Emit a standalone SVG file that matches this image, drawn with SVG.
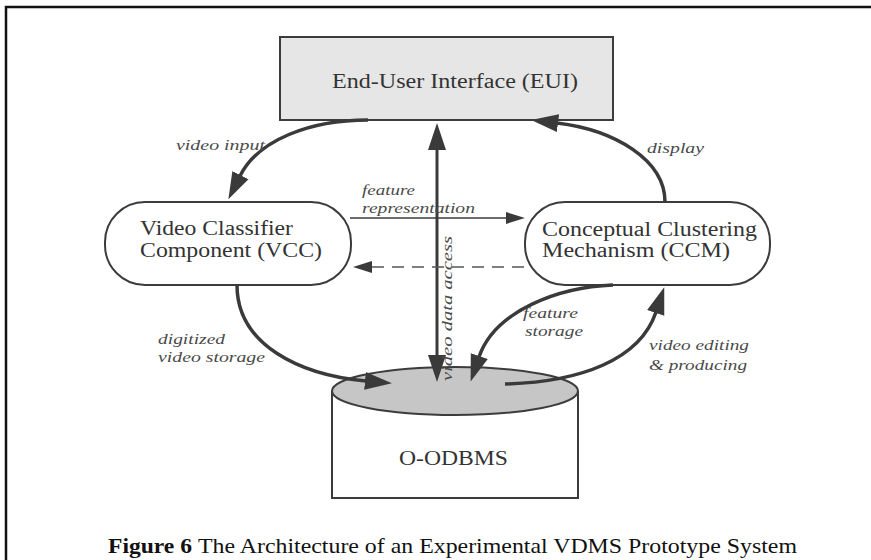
<svg xmlns="http://www.w3.org/2000/svg" width="871" height="560" viewBox="0 0 871 560">
  <style>
    .frame { stroke: #111; stroke-width: 2.5; fill: none; }
    .box { stroke: #3c3c3c; stroke-width: 2; }
    .node-text { font-family: "Liberation Serif", "Times New Roman", serif; font-size: 20px; fill: #333; }
    .label { font-family: "Liberation Serif", "Times New Roman", serif; font-size: 15.5px; font-style: italic; fill: #4a4a4a; }
    .caption { font-family: "Liberation Serif", "Times New Roman", serif; font-size: 22px; fill: #111; }
    .thick { fill: none; stroke: #3a3a3a; stroke-width: 3.5; }
    .thin { fill: none; stroke: #3a3a3a; stroke-width: 1.6; }
    .dashed { fill: none; stroke: #555; stroke-width: 1.6; stroke-dasharray: 12 8; }
  </style>
  <defs>
    <marker id="head-big" markerUnits="userSpaceOnUse" markerWidth="30" markerHeight="22" viewBox="0 -11 30 22" refX="1" refY="0" orient="auto-start-reverse">
      <path d="M0,-9 L27,0 L0,9 Z" fill="#3a3a3a"/>
    </marker>
    <marker id="head-small" markerUnits="userSpaceOnUse" markerWidth="22" markerHeight="16" viewBox="0 -8 22 16" refX="1" refY="0" orient="auto">
      <path d="M0,-6 L19,0 L0,6 Z" fill="#3a3a3a"/>
    </marker>
  </defs>

  <rect width="871" height="560" fill="#fff"/>

  <!-- page frame -->
  <path class="frame" d="M6,560 L6,7 L871,7"/>

  <!-- nodes -->
  <g id="eui">
    <rect class="box" x="280" y="37" width="333" height="83" fill="#e6e6e6"/>
    <text class="node-text" x="332" y="88" textLength="246" lengthAdjust="spacingAndGlyphs">End-User Interface (EUI)</text>
  </g>

  <g id="vcc">
    <rect class="box" x="105" y="202" width="246" height="83" rx="40" ry="40" fill="#fff"/>
    <text class="node-text" x="140" y="235" textLength="153" lengthAdjust="spacingAndGlyphs">Video Classifier</text>
    <text class="node-text" x="140" y="257" textLength="182" lengthAdjust="spacingAndGlyphs">Component (VCC)</text>
  </g>

  <g id="ccm">
    <rect class="box" x="525" y="202" width="245" height="83" rx="40" ry="40" fill="#fff"/>
    <text class="node-text" x="542" y="236" textLength="215" lengthAdjust="spacingAndGlyphs">Conceptual Clustering</text>
    <text class="node-text" x="542" y="257" textLength="188" lengthAdjust="spacingAndGlyphs">Mechanism (CCM)</text>
  </g>

  <g id="oodbms">
    <path class="box" d="M332,391 L332,498 L578,498 L578,391" fill="#fff"/>
    <ellipse class="box" cx="455" cy="391" rx="123" ry="24" fill="#c6c6c6"/>
    <text class="node-text" x="399" y="465" textLength="109" lengthAdjust="spacingAndGlyphs">O-ODBMS</text>
  </g>

  <!-- connectors -->
  <g id="connectors">
    <path class="thick" d="M368,120 C310,120 258,140 240,176" marker-end="url(#head-big)"/>
    <path class="thick" d="M665,202 C665,160 615,130 557,123" marker-end="url(#head-big)"/>
    <path class="thick" style="stroke-width:3" d="M437,149 L437,356" marker-start="url(#head-big)" marker-end="url(#head-big)"/>
    <path class="thin" d="M350,218 L507,218" marker-end="url(#head-small)"/>
    <path class="dashed" d="M524,267 L371,267" marker-end="url(#head-small)"/>
    <path class="thick" d="M237,285 C237,345 300,375 366,381" marker-end="url(#head-big)"/>
    <path class="thick" d="M613,285 C560,287 495,310 479,357" marker-end="url(#head-big)"/>
    <path class="thick" d="M505,384 C580,382 640,360 656,312" marker-end="url(#head-big)"/>
  </g>

  <!-- connector labels -->
  <g id="labels">
    <text class="label" x="176" y="150" textLength="89" lengthAdjust="spacingAndGlyphs">video input</text>
    <text class="label" x="647" y="153" textLength="57" lengthAdjust="spacingAndGlyphs">display</text>
    <text class="label" x="362" y="195" textLength="53" lengthAdjust="spacingAndGlyphs">feature</text>
    <text class="label" x="362" y="213" textLength="113" lengthAdjust="spacingAndGlyphs">representation</text>
    <text class="label" transform="translate(452,381) rotate(-90)" textLength="145" lengthAdjust="spacingAndGlyphs">video data access</text>
    <text class="label" x="158" y="344" textLength="67" lengthAdjust="spacingAndGlyphs">digitized</text>
    <text class="label" x="158" y="362" textLength="107" lengthAdjust="spacingAndGlyphs">video storage</text>
    <text class="label" x="523" y="318" textLength="55" lengthAdjust="spacingAndGlyphs">feature</text>
    <text class="label" x="525" y="336" textLength="58" lengthAdjust="spacingAndGlyphs">storage</text>
    <text class="label" x="649" y="350" textLength="100" lengthAdjust="spacingAndGlyphs">video editing</text>
    <text class="label" x="649" y="370" textLength="98" lengthAdjust="spacingAndGlyphs">&amp; producing</text>
  </g>

  <!-- caption -->
  <text class="caption" x="108" y="553" font-weight="bold" textLength="84" lengthAdjust="spacingAndGlyphs">Figure 6</text>
  <text class="caption" x="198" y="553" textLength="599" lengthAdjust="spacingAndGlyphs">The Architecture of an Experimental VDMS Prototype System</text>
</svg>
